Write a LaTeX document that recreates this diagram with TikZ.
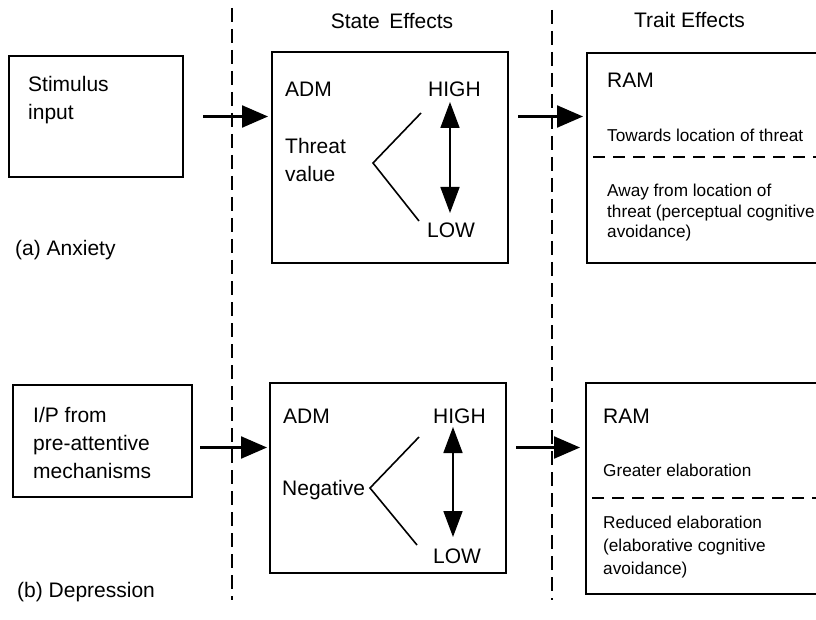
\documentclass[tikz,border=0pt]{standalone}
\usepackage{fontspec}
\setmainfont{Liberation Sans}
\usetikzlibrary{arrows.meta,calc}
\begin{document}
\begin{tikzpicture}[x=1pt,y=-1pt,
  box/.style={draw, line width=1.7pt, rectangle, inner sep=0pt, outer sep=0pt},
  lbl/.style={anchor=base west, inner sep=0pt, font=\fontsize{21}{28}\selectfont, align=left},
  sml/.style={anchor=base west, inner sep=0pt, font=\fontsize{17.2}{20.5}\selectfont, align=left},
  head/.style={anchor=base, inner sep=0pt, font=\fontsize{21}{28}\selectfont},
  sepline/.style={line width=2.1pt, dash pattern=on 14pt off 7pt},
  flow/.style={line width=2.2pt, -{Triangle[length=26pt,width=22pt]}},
  levelarrow/.style={line width=1.7pt, {Triangle[length=26pt,width=19pt]}-{Triangle[length=26pt,width=19pt]}},
  fork/.style={line width=1.6pt}
]
\useasboundingbox (0,0) rectangle (816,620);
\clip (0,0) rectangle (816,620);
\fill[white] (0,0) rectangle (816,620);

% column separators
\draw[sepline] (232,8) -- (232,600);
\draw[sepline] (552,10) -- (552,600);

% column headings
\node[head] (state) at (392,29) {State\hskip0.45em Effects};
\node[head] (trait) at (689.5,28) {Trait Effects};

% ---------- (a) Anxiety ----------
\node[box, minimum width=174pt, minimum height=121pt] (stim) at (96,116.5) {};
\node[lbl] (stimtxt) at (28,120) {Stimulus\\input};
\node[lbl] (anx) at (15,255) {(a) Anxiety};

\node[box, minimum width=236pt, minimum height=211pt] (adm1) at (390,157.5) {};
\node[lbl] (adm1lbl) at (285,97) {ADM};
\node[lbl] (high1) at (428,97) {HIGH};
\node[lbl] (thr) at (285,182) {Threat\\value};
\node[lbl] (low1) at (427,238) {LOW};
\coordinate (apex1) at (373,163);
\coordinate (f1u) at (421,113);
\coordinate (f1d) at (419,221);
\draw[fork] (f1u) -- (apex1) -- (f1d);
\coordinate (hi1) at (450,102);
\coordinate (lo1) at (450,213);
\draw[levelarrow] (hi1) -- (lo1);

\node[box, minimum width=243pt, minimum height=210pt] (ram1) at (708.5,158) {};
\node[lbl] (ram1lbl) at (607,88) {RAM};
\node[sml] (towards) at (607,142) {Towards location of threat};
\draw[sepline, dash pattern=on 12pt off 8pt] (ram1.west |- 0,157) ++(6,0) -- (ram1.east |- 0,157);
\node[sml] (away) at (607,238) {Away from location of\\threat (perceptual cognitive\\avoidance)};

\draw[flow, shorten >=4pt] ([xshift=20pt]stim.east) -- (stim.east -| adm1.west);
\draw[flow, shorten >=4pt] ([xshift=10pt]adm1.east |- stim.east) -- (stim.east -| ram1.west);

% ---------- (b) Depression ----------
\node[box, minimum width=179pt, minimum height=112pt] (ip) at (102.5,441) {};
\node[lbl] (iptxt) at (33,478) {I/P from\\pre-attentive\\mechanisms};
\node[lbl] (dep) at (17,597) {(b) Depression};

\node[box, minimum width=236pt, minimum height=190pt] (adm2) at (388,478) {};
\node[lbl] (adm2lbl) at (283,423) {ADM};
\node[lbl] (high2) at (433,423) {HIGH};
\node[lbl] (neg) at (282,495) {Negative};
\node[lbl] (low2) at (433,563) {LOW};
\coordinate (apex2) at (370,488);
\coordinate (f2u) at (419,437);
\coordinate (f2d) at (417,545);
\draw[fork] (f2u) -- (apex2) -- (f2d);
\coordinate (hi2) at (453,427);
\coordinate (lo2) at (453,537);
\draw[levelarrow] (hi2) -- (lo2);

\node[box, minimum width=244pt, minimum height=211pt] (ram2) at (708,488.5) {};
\node[lbl] (ram2lbl) at (603,423) {RAM};
\node[sml] (greater) at (603,476) {Greater elaboration};
\draw[sepline, dash pattern=on 12pt off 8pt] (ram2.west |- 0,498) ++(6,0) -- (ram2.east |- 0,498);
\node[sml, font=\fontsize{17.2}{23}\selectfont] (reduced) at (603,574) {Reduced elaboration\\(elaborative cognitive\\avoidance)};

\coordinate (rowb) at (0,447.5);
\draw[flow, shorten >=3pt] ($(ip.east |- rowb)+(8,0)$) -- (adm2.west |- rowb);
\draw[flow, shorten >=6pt] ($(adm2.east |- rowb)+(10,0)$) -- (ram2.west |- rowb);
\end{tikzpicture}
\end{document}
